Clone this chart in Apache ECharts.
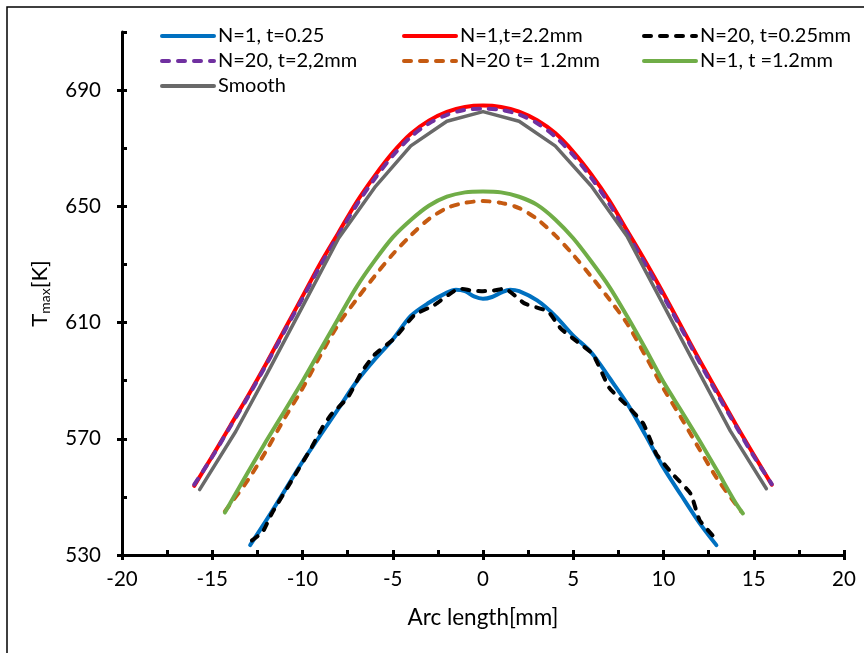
<!DOCTYPE html>
<html>
<head>
<meta charset="utf-8">
<script src="https://cdn.jsdelivr.net/npm/echarts@6/dist/echarts.min.js"></script>
<style>html,body{margin:0;padding:0;background:#fff;}#c{width:864px;height:653px;}</style>
</head>
<body>
<div id="c"></div>
<script>
// ---- data ----
const seriesNames = ['N=1, t=0.25', 'N=1,t=2.2mm', 'N=20, t=0.25mm', 'N=20, t=2,2mm', 'N=20 t= 1.2mm', 'N=1, t =1.2mm', 'Smooth'];

const blueX = [-12.9,-12,-11,-10,-9,-8,-7,-6,-5,-4,-3,-2,-1.5,-1,-0.5,0,0.5,1,1.5,2,3,4,5,6,7,8,9,10,11,12,12.93];
const blueY = [533.4,542,552,562.1,571.3,580.5,589.7,597.3,604.2,612.3,616.8,620.3,621.3,620.8,619,618.2,618.8,620.3,621.3,620.8,617.6,612.3,605.5,599.7,591,582,571.3,560,550.4,541,533.4];

const redX = [-16,-15,-14,-13,-12,-11,-10,-9,-8,-7,-6,-5,-4,-3,-2,-1,0,1,2,3,4,5,6,7,8,9,10,11,12,13,14,15,16];
const redY = [553.8,564,574.5,585,596,607.5,619,630.5,641,651.5,660.5,668.5,675,679.5,682.5,684.2,684.7,684.2,682.6,679.6,675.2,668.8,661,652,641.5,631,620,608.5,597,586,575,564.5,554.2];

const blackX = [-12.8,-12.2,-11.7,-10.6,-9.5,-8.9,-8.4,-7.5,-6.7,-6.0,-4.9,-3.8,-2.7,-1.3,-0.6,0,0.6,1.2,2.3,3.6,4.3,5.2,6.1,7.0,8.1,8.9,9.6,10.5,11.5,12.0,12.9];
const blackY = [535,538,544.3,555.6,567,573.9,578.4,584.1,593.2,599,604.6,612.6,616,621.7,621,620.8,621,621.7,616.6,613.8,608,603.5,599,587.5,580.7,575,564.8,557.9,551.1,542,535.5];

const purpleX = [-16,-15,-14,-13,-12,-11,-10,-9,-8,-7,-6,-5,-4,-3,-2,-1,0,1,2,3,4,5,6,7,8,9,10,11,12,13,14,15,16];
const purpleY = [554.2,563.8,574.2,584.6,595.6,607,618.3,629.7,640.2,650.5,659.5,667.4,673.9,678.5,681.5,683.2,683.6,683.2,681.6,678.6,674,667.6,659.8,650.8,640.6,630,619,607.8,596.3,585.2,574.5,564,554.4];

const orangeX = [-14.3,-14,-13,-12,-11,-10,-9,-8,-7,-6,-5,-4,-3,-2,-1,0,1,2,3,4,5,6,7,8,9,10,11,12,13,14,14.3];
const orangeY = [545,547.5,556,566,577,587.3,598.8,609.5,618,626,633.5,640,645.6,649.4,651.2,651.8,651.2,649.4,645.6,640,633.3,625.8,618,609.5,598.5,587.3,577,566.3,556,547.5,545];

const greenX = [-14.3,-14,-13,-12,-11,-10,-9,-8,-7,-6,-5,-4,-3,-2,-1,0,1,2,3,4,5,6,7,8,9,10,11,12,13,14,14.4];
const greenY = [544.6,547.9,558.7,569.3,579.5,589.8,600.7,611.6,622.3,631.3,639.3,645.3,650.2,653.3,654.8,655.1,654.8,653.3,650.5,645.5,639,631,622.3,612,601,589.5,579.5,569.3,558.7,547.9,544.3];

const grayX = [-15.7,-13.7,-12,-10,-8,-6,-4,-2,0,2,4,6,8,10,12,13.7,15.7];
const grayY = [552.5,572.5,592,615.5,639,656.5,670.8,679.3,682.6,679.3,670.8,657,639.5,616,592.5,572.7,552.8];

const xMajorTicks = [-20,-15,-10,-5,0,5,10,15,20];
const yMajorTicks = [530,570,610,650,690];
const yMinorTicks = [530,550,570,590,610,630,650,670,690,710];

// ---- chart ----
const FONT = 'Lato';
const zip = (xs, ys) => xs.map((x, i) => [x, ys[i]]);
const colors = ['#0070C0', '#FF0000', '#000000', '#7030A0', '#C55A11', '#70AD47', '#696969'];
const dash = [7, 9];
const specs = [
  {x: blueX, y: blueY, type: 'solid', smooth: 0.3},
  {x: redX, y: redY, type: 'solid', smooth: 0.3},
  {x: blackX, y: blackY, type: dash, smooth: 0.15},
  {x: purpleX, y: purpleY, type: dash, smooth: 0.3},
  {x: orangeX, y: orangeY, type: dash, smooth: 0.3},
  {x: greenX, y: greenY, type: 'solid', smooth: 0.3},
  {x: grayX, y: grayY, type: 'solid', smooth: false}
];

const series = specs.map((s, i) => ({
  name: seriesNames[i],
  type: 'line',
  xAxisIndex: 0,
  yAxisIndex: 0,
  data: zip(s.x, s.y),
  smooth: s.smooth,
  showSymbol: false,
  symbol: 'none',
  animation: false,
  lineStyle: {color: colors[i], width: i === 6 ? 3.5 : 4, type: s.type, cap: 'round', join: 'round'},
  itemStyle: {color: colors[i]},
  z: 2 + i
}));

const legendBase = {
  orient: 'vertical',
  top: 26,
  itemWidth: 52,
  itemHeight: 14,
  itemGap: 5,
  itemStyle: {opacity: 0},
  lineStyle: {width: 4, cap: 'round'},
  textStyle: {fontFamily: FONT, fontSize: 20, color: '#000', padding: [0, 0, 0, -1]},
  padding: 0
};

const chart = echarts.init(document.getElementById('c'), null, {renderer: 'canvas'});
chart.setOption({
  backgroundColor: '#fff',
  animation: false,
  graphic: [{type: 'rect', shape: {x: 7, y: 7, width: 900, height: 700}, style: {fill: 'none', stroke: '#000', lineWidth: 1.5}, silent: true}],
  legend: [
    Object.assign({}, legendBase, {left: 160, data: [seriesNames[0], seriesNames[3], seriesNames[6]]}),
    Object.assign({}, legendBase, {left: 402, data: [seriesNames[1], seriesNames[4]]}),
    Object.assign({}, legendBase, {left: 642, data: [seriesNames[2], seriesNames[5]]})
  ],
  grid: {left: 122, right: 20, top: 32, bottom: 98, containLabel: false},
  xAxis: [
    {
      type: 'value', min: -20, max: 20, interval: 5,
      name: 'Arc length[mm]', nameLocation: 'middle', nameGap: 51,
      nameTextStyle: {fontFamily: FONT, fontSize: 22.5, color: '#000'},
      axisLine: {show: true, onZero: false, lineStyle: {color: '#000', width: 3}},
      axisTick: {show: true, inside: false, length: 5, lineStyle: {color: '#000', width: 3}, customValues: xMajorTicks},
      axisLabel: {fontFamily: FONT, fontSize: 20.5, color: '#000', margin: 14, customValues: xMajorTicks},
      splitLine: {show: false}
    },
    {
      type: 'value', min: -20, max: 20, interval: 2.5, position: 'bottom',
      axisLine: {show: false, onZero: false},
      axisTick: {show: true, inside: true, length: 5, lineStyle: {color: '#000', width: 3}},
      axisLabel: {show: false},
      splitLine: {show: false}
    }
  ],
  yAxis: [
    {
      type: 'value', min: 530, max: 710, interval: 40,
      name: 'T{sub|max}[K]', nameLocation: 'middle', nameGap: 70, nameRotate: 90,
      nameTextStyle: {fontFamily: FONT, fontSize: 22, color: '#000', rich: {sub: {fontFamily: FONT, fontSize: 14, color: '#000', padding: [10, 0, 0, 0]}}},
      axisLine: {show: true, onZero: false, lineStyle: {color: '#000', width: 3}},
      axisTick: {show: true, inside: false, length: 5, lineStyle: {color: '#000', width: 3}, customValues: yMajorTicks},
      axisLabel: {fontFamily: FONT, fontSize: 20.5, color: '#000', margin: 21, customValues: yMajorTicks},
      splitLine: {show: false}
    },
    {
      type: 'value', min: 530, max: 710, interval: 20, position: 'left',
      axisLine: {show: false, onZero: false},
      axisTick: {show: true, inside: true, length: 5, lineStyle: {color: '#000', width: 3}, customValues: yMinorTicks},
      axisLabel: {show: false},
      splitLine: {show: false}
    }
  ],
  series: series
});
</script>
</body>
</html>
